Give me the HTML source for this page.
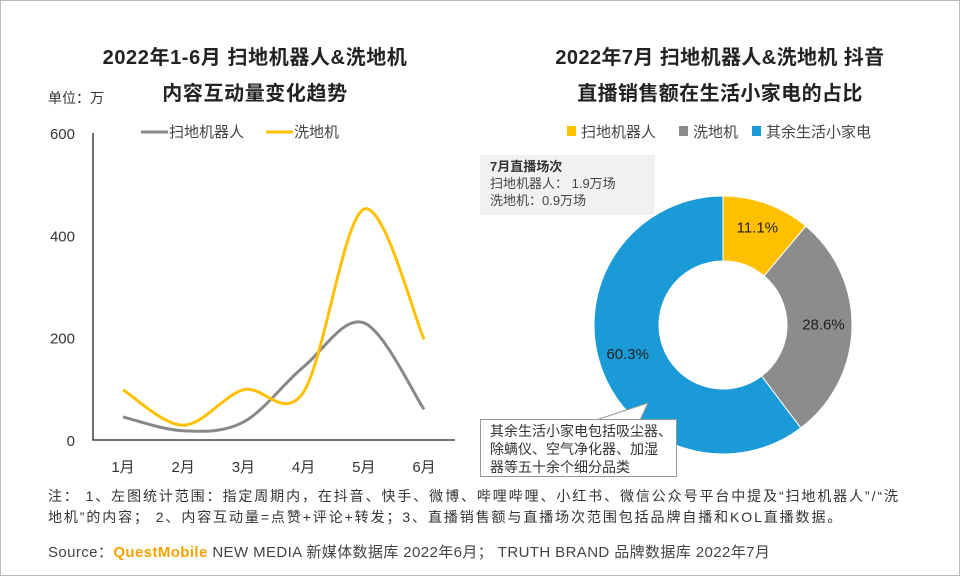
<!DOCTYPE html>
<html><head><meta charset="utf-8"><style>
body{margin:0;width:960px;height:576px;background:#fff;font-family:"Liberation Sans","Noto Sans CJK SC",sans-serif;overflow:hidden}
.frame{position:absolute;left:0;top:0;width:958px;height:574px;border:1px solid #bbb}
.t{position:absolute;white-space:nowrap;color:#222}
</style></head><body>
<div class="frame"></div>
<div class="t" style="left:60px;top:40px;width:390px;text-align:center;font-size:20px;font-weight:bold;line-height:36px;letter-spacing:0.6px">2022年1-6月 扫地机器人&amp;洗地机<br>内容互动量变化趋势</div>
<div class="t" style="left:520px;top:40px;width:400px;text-align:center;font-size:20px;font-weight:bold;line-height:36px;letter-spacing:0.4px">2022年7月 扫地机器人&amp;洗地机 抖音<br>直播销售额在生活小家电的占比</div>
<div class="t" style="left:48px;top:88px;font-size:14px;color:#333">单位：万</div>
<svg width="960" height="576" style="position:absolute;left:0;top:0" id="svg">
<g id="line-chart"></g><g id="pie-chart"></g>
</svg>
<div class="t" style="left:480px;top:155px;width:175px;height:60px;background:#f1f1f1;font-size:13px;color:#444;line-height:17px;padding:3px 0 0 10px;box-sizing:border-box"><b style="color:#333">7月直播场次</b><br>扫地机器人： 1.9万场<br>洗地机：0.9万场</div>
<div class="t" style="left:480px;top:419px;width:197px;height:58px;background:#fff;border:1px solid #999;font-size:14px;color:#333;line-height:18px;padding:2px 0 0 9px;box-sizing:border-box;white-space:nowrap">其余生活小家电包括吸尘器、<br>除螨仪、空气净化器、加湿<br>器等五十余个细分品类</div>
<div class="t" style="left:48px;top:486px;font-size:14px;color:#333;line-height:21px;letter-spacing:1.9px">注： 1、左图统计范围：指定周期内，在抖音、快手、微博、哔哩哔哩、小红书、微信公众号平台中提及“扫地机器人”/“洗<br>地机”的内容； 2、内容互动量=点赞+评论+转发；3、直播销售额与直播场次范围包括品牌自播和KOL直播数据。</div>
<div class="t" style="left:48px;top:541px;font-size:15px;color:#444;letter-spacing:0.4px">Source：<span style="color:#f5a300;font-weight:bold">QuestMobile</span> NEW MEDIA 新媒体数据库 2022年6月； TRUTH BRAND 品牌数据库 2022年7月</div>
<script>
const months=["1月","2月","3月","4月","5月","6月"];
const robot=[45,18,35,143,229,60];
const washer=[98,29,98,94,451,197];
const yTicks=[0,200,400,600];
const pieLabels=["扫地机器人","洗地机","其余生活小家电"];
const pieValues=[11.1,28.6,60.3];
const NS="http://www.w3.org/2000/svg";
function mk(t,a,p){const e=document.createElementNS(NS,t);for(const k in a)e.setAttribute(k,a[k]);p.appendChild(e);return e;}
const lg=document.getElementById('line-chart');
const x0=93,x1=455,yb=440,yt=133;
const xs=i=>123+i*60.2, ys=v=>yb-(v/600)*(yb-yt);
let ax=mk('path',{d:`M${x0} ${yt}V${yb}H${x1}`,stroke:'#222','stroke-width':1.3,fill:'none'},lg);

yTicks.forEach(v=>{const t=mk('text',{x:75,y:ys(v)+6,'text-anchor':'end','font-size':15,fill:'#333'},lg);t.textContent=v;
});
months.forEach((m,i)=>{const t=mk('text',{x:xs(i),y:472,'text-anchor':'middle','font-size':15,fill:'#333'},lg);t.textContent=m;
});
function smooth(vals){const p=vals.map((v,i)=>[xs(i),ys(v)]);let d=`M${p[0][0]} ${p[0][1]}`;
for(let i=0;i<p.length-1;i++){const a=p[i-1]||p[i],b=p[i],c=p[i+1],e=p[i+2]||c;
d+=`C${b[0]+(c[0]-a[0])/6} ${b[1]+(c[1]-a[1])/6} ${c[0]-(e[0]-b[0])/6} ${c[1]-(e[1]-b[1])/6} ${c[0]} ${c[1]}`;}return d;}
let l1=mk('path',{d:smooth(robot),stroke:'#888','stroke-width':3,fill:'none'},lg);

let l2=mk('path',{d:smooth(washer),stroke:'#ffc000','stroke-width':3,fill:'none'},lg);

[[141,'#888','扫地机器人'],[266,'#ffc000','洗地机']].forEach(([x,c,n])=>{
const g=mk('g',{},lg);
mk('line',{x1:x,y1:132,x2:x+27,y2:132,stroke:c,'stroke-width':3},g);
const t=mk('text',{x:x+28,y:137,'font-size':15,fill:'#444'},g);t.textContent=n;});
const pg=document.getElementById('pie-chart');
const cx=723,cy=325,R=129,r=64,cols=['#ffc000','#8c8c8c','#1a9ad6'];
let tot=pieValues.reduce((a,b)=>a+b,0),ang=0;
pieValues.forEach((v,i)=>{const a0=ang,a1=ang+v/tot*2*Math.PI;ang=a1;
const P=(rr,a)=>[cx+rr*Math.sin(a),cy-rr*Math.cos(a)];const lf=(a1-a0)>Math.PI?1:0;
const [A,B,C,D]=[P(R,a0),P(R,a1),P(r,a1),P(r,a0)];
const s=mk('path',{d:`M${A}A${R} ${R} 0 ${lf} 1 ${B}L${C}A${r} ${r} 0 ${lf} 0 ${D}Z`,fill:cols[i],stroke:'#fff','stroke-width':1},pg);

const m=(a0+a1)/2,L=P((R+r)/2+4,m);const t=mk('text',{x:L[0],y:L[1]+2,'text-anchor':'middle','font-size':15,fill:'#222'},pg);t.textContent=v.toFixed(1)+'%';
});
let lx=[567,679,752];
pieLabels.forEach((n,i)=>{const g=mk('g',{},pg);
mk('rect',{x:lx[i],y:126,width:9,height:10,fill:cols[i]},g);
const t=mk('text',{x:lx[i]+14,y:137,'font-size':15,fill:'#444'},g);t.textContent=n;});
let cp=mk('path',{d:'M640 420L648 403L596 420Z',fill:'#fff',stroke:'#999'},pg);

</script>
</body></html>
